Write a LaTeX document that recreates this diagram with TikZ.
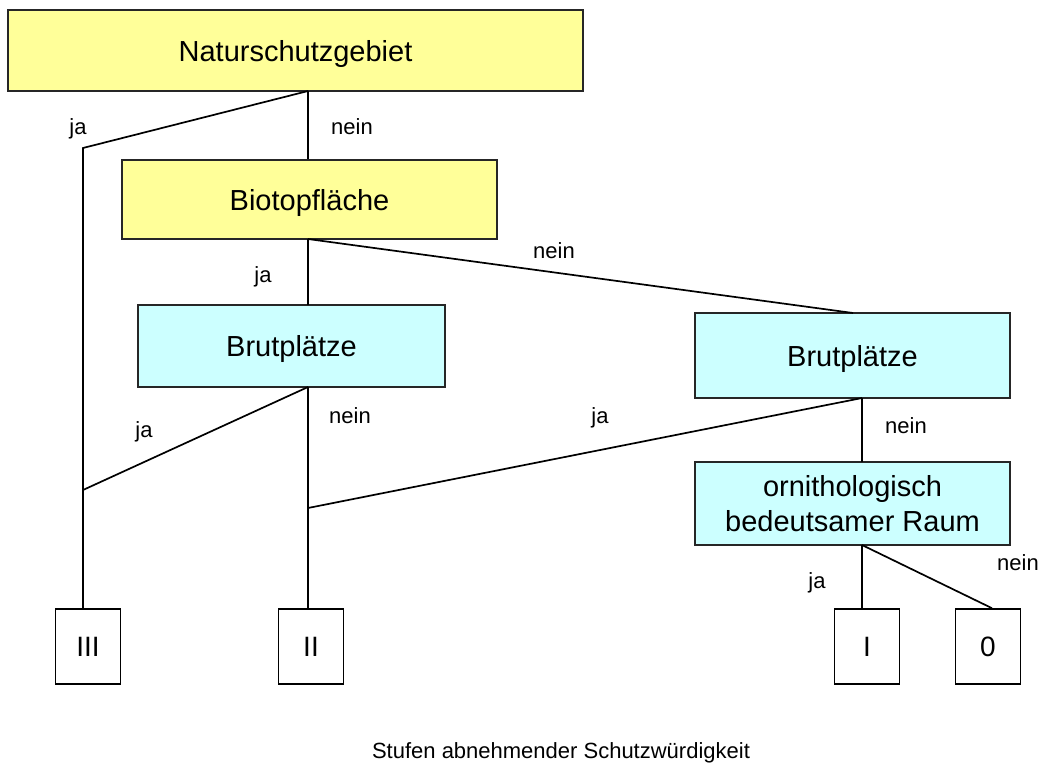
\documentclass[tikz,border=0pt]{standalone}
\usepackage{fontspec}
\setmainfont{Liberation Sans}
\usetikzlibrary{calc}
\definecolor{yel}{HTML}{FFFF99}
\definecolor{cya}{HTML}{CCFFFF}
\begin{document}
\begin{tikzpicture}[x=1pt,y=-1pt,
  box/.style={draw=black!85, line width=1.6pt, inner sep=0pt, align=center,
    text depth=0pt, font=\fontsize{29}{35}\selectfont},
  leaf/.style={draw=black, line width=1.6pt, fill=white, minimum width=65pt,
    minimum height=75pt, inner sep=0pt, font=\fontsize{28}{32}\selectfont},
  lbl/.style={font=\fontsize{22}{26}\selectfont, inner sep=0pt, anchor=base},
  conn/.style={line width=1.7pt, line join=miter}]
\useasboundingbox (0,0) rectangle (1041,764);
% boxes
\node[box, fill=yel, minimum width=575pt, minimum height=81pt] (nsg) at (295.5,50.5) {Naturschutzgebiet};
\node[box, fill=yel, minimum width=375pt, minimum height=79pt] (bio) at (309.5,199.5) {Biotopfläche};
\node[box, fill=cya, minimum width=307pt, minimum height=82pt] (br1) at (291.5,346) {Brutplätze};
\node[box, fill=cya, minimum width=315pt, minimum height=85pt] (br2) at (852.5,355.5) {Brutplätze};
\node[box, fill=cya, minimum width=315pt, minimum height=83pt] (orn) at (852.5,503.5) {ornithologisch\\bedeutsamer Raum};
\node[leaf] (l3) at (88,646.5) {III};
\node[leaf] (l2) at (311,646.5) {II};
\node[leaf] (l1) at (867,646.5) {I};
\node[leaf] (l0) at (988,646.5) {0};
% connection points
\coordinate (nsgB) at (308,91);
\coordinate (cornA) at (83,148);
\coordinate (bioB) at (308,239);
\coordinate (br1T) at (308,305);
\coordinate (br1B) at (308,387);
\coordinate (br2T) at (853,313);
\coordinate (br2B) at (862,398);
\coordinate (ornT) at (862,462);
\coordinate (ornB) at (862,545);
\coordinate (jIII) at (83,490);
\coordinate (jII) at (308,508);
% connectors
\draw[conn] (nsgB) -- (cornA) -- (cornA |- l3.north);
\draw[conn] (nsgB) -- (nsgB |- bio.north);
\draw[conn] (bioB) -- (br1T);
\draw[conn] (bioB) -- (br2T);
\draw[conn] (br1B) -- (jIII);
\draw[conn] (br1B) -- (br1B |- l2.north);
\draw[conn] (br2B) -- (jII);
\draw[conn] (br2B) -- (ornT);
\draw[conn] (ornB) -- (ornB |- l1.north);
\draw[conn] (ornB) -- ($(l0.north)+(4,0)$);
% labels
\node[lbl] (t1) at (78,134) {ja};
\node[lbl] (t2) at (352,134) {nein};
\node[lbl] (t3) at (263,282) {ja};
\node[lbl] (t4) at (554,258) {nein};
\node[lbl] (t5) at (144,437) {ja};
\node[lbl] (t6) at (350,423) {nein};
\node[lbl] (t7) at (600,423) {ja};
\node[lbl] (t8) at (906,433) {nein};
\node[lbl] (t9) at (817,588) {ja};
\node[lbl] (t10) at (1018,570) {nein};
\node[lbl] (title) at (561,758) {Stufen abnehmender Schutzwürdigkeit};
\end{tikzpicture}
\end{document}
